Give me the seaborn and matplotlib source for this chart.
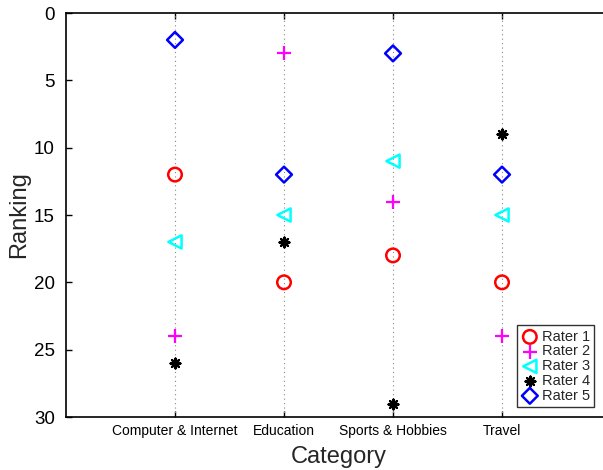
import matplotlib
matplotlib.use("Agg")
import matplotlib.pyplot as plt
import seaborn as sns
import pandas as pd

categories = ["Computer & Internet", "Education", "Sports & Hobbies", "Travel"]
rater1 = [12, 20, 18, 20]
rater2 = [24, 3, 14, 24]
rater3 = [17, 15, 11, 15]
rater4 = [26, 17, 29, 9]
rater5 = [2, 12, 3, 12]
raters = ["Rater 1", "Rater 2", "Rater 3", "Rater 4", "Rater 5"]
yticks = [0, 5, 10, 15, 20, 25, 30]

sns.set_style("white")
plt.rcParams['font.family'] = ['Liberation Sans', 'DejaVu Sans']

fig = plt.figure(figsize=(6.03, 4.70), dpi=100)
ax = fig.add_axes([66/603, 1-417/470, 545/603, (417-13)/470])

xpos = list(range(1, len(categories) + 1))
series = [rater1, rater2, rater3, rater4, rater5]
styles = [
    dict(marker='o', color='#ff0000', open=True),
    dict(marker='+', color='#ff00ff', open=False),
    dict(marker='<', color='#00ffff', open=True),
    dict(marker=(8, 2, 0), color='#000000', open=False),
    dict(marker='D', color='#0000ff', open=True),
]
sizes = [95, 90, 90, 50, 65]

for name, vals, st, s in zip(raters, series, styles, sizes):
    df = pd.DataFrame({"x": xpos, "y": vals})
    if st['open']:
        sns.scatterplot(data=df, x="x", y="y", ax=ax, marker=st['marker'], s=s,
                        facecolors='none', edgecolors=st['color'], linewidths=1.8,
                        label=name, zorder=3)
    else:
        sns.scatterplot(data=df, x="x", y="y", ax=ax, marker=st['marker'], s=s,
                        color=st['color'], linewidths=1.6, label=name, zorder=3)

for x in xpos:
    ax.axvline(x, color='#888888', linestyle=(0, (1, 3)), linewidth=0.8, zorder=1)

ax.set_xlim(0, 5)
ax.set_ylim(30, 0)
ax.set_xticks(xpos)
ax.set_xticklabels(categories, fontsize=10)
ax.set_yticks(yticks)
ax.set_yticklabels([str(t) for t in yticks], fontsize=13.5)
ax.tick_params(direction='in', length=4, width=1, colors='black', left=True, bottom=True, top=True)
ax.tick_params(axis='x', pad=5)
ax.tick_params(axis='y', pad=8)
ax.set_xlabel("Category", fontsize=17)
ax.set_ylabel("Ranking", fontsize=17)
ax.xaxis.set_label_coords(0.5, -(457 - 417) / 404, transform=ax.transAxes)
ax.xaxis.label.set_va('center')
ax.yaxis.set_label_coords((19 - 66) / 545, 0.5)
ax.yaxis.label.set_va('center')
for sp in ax.spines.values():
    sp.set_linewidth(1.2)
    sp.set_color('black')

leg = ax.legend(loc='lower right', fontsize=10.5, frameon=True, fancybox=False, handletextpad=0.2,
                borderpad=0.3, labelspacing=0.05, handlelength=1.2, borderaxespad=0)
leg.set_bbox_to_anchor((594/603, 1-407/470), transform=fig.transFigure)
leg.get_frame().set_edgecolor('black')
leg.get_frame().set_linewidth(1)

fig.savefig("out.png", dpi=100)
